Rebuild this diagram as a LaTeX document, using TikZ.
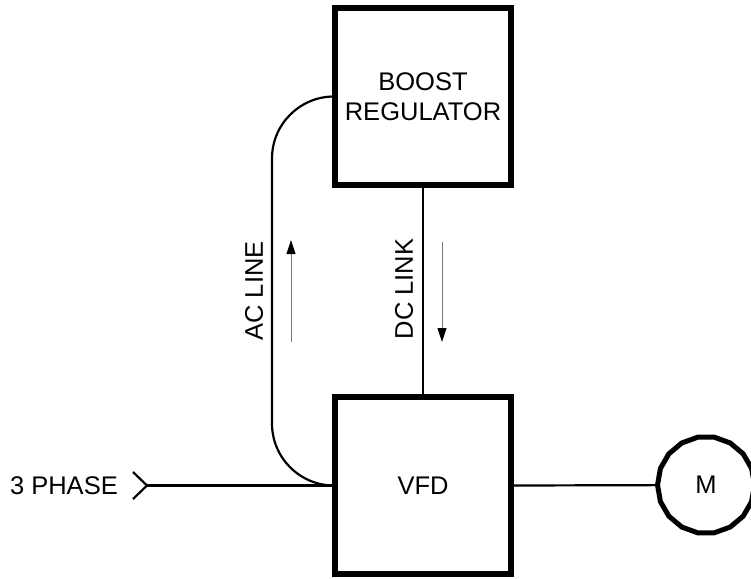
\documentclass[tikz,border=0pt]{standalone}
\usepackage{fontspec}
\setmainfont{Liberation Sans}
\usetikzlibrary{arrows.meta,positioning,shapes.geometric}
\definecolor{ink}{HTML}{000000}
\definecolor{flowgray}{HTML}{777777}
\tikzset{
  block/.style={draw=ink, line width=5.5pt, align=center, minimum width=176pt, minimum height=177pt, inner sep=0pt, font=\fontsize{25.5}{30}\selectfont},
  motor/.style={draw=ink, line width=5pt, regular polygon, regular polygon sides=18, minimum size=97pt, inner sep=0pt, font=\fontsize{25.5}{30}\selectfont},
  lbl/.style={inner sep=0pt, font=\fontsize{25.5}{30}\selectfont},
  wire/.style={draw=ink, line width=2.2pt},
  flow/.style={-{Triangle[length=14pt,width=9pt,color=ink]}, line width=1pt, draw=flowgray}
}

\begin{document}
\begin{tikzpicture}[x=1pt, y=-1pt]
  \useasboundingbox (0,0) rectangle (751,578);

  \node[block] (vfd) at (423,485.5) {VFD};
  \node[block] (boost) at (423,96.5) {BOOST\\REGULATOR};
  \node[motor] (motor) at (706,485) {M};

  % three phase feed
  \coordinate (feed) at (147,485.5);
  \node[lbl, anchor=east] (phase) at (118,485.5) {3 PHASE};
  \draw[wire] (feed) ++(-14,-13.5) -- (feed) -- ++(-14,13.5);
  \draw[wire] (feed) -- (vfd.west);

  % ac line loop
  \coordinate (acx) at (272,290);
  \draw[wire, rounded corners=62pt] (boost.west) -| (acx) |- (vfd.west);
  \node[lbl, rotate=90] (aclabel) at (254,291) {AC LINE};
  \coordinate (acup0) at (291,342);
  \coordinate (acup1) at (291,240);
  \draw[flow] (acup0) -- (acup1);

  % dc link
  \draw[wire] (boost.south) -- (vfd.north);
  \node[lbl, rotate=90] (dclabel) at (404,289) {DC LINK};
  \coordinate (dcdn0) at (442,242);
  \coordinate (dcdn1) at (442,342);
  \draw[flow] (dcdn0) -- (dcdn1);

  \draw[wire] (vfd.east) -- (motor);
\end{tikzpicture}
\end{document}
